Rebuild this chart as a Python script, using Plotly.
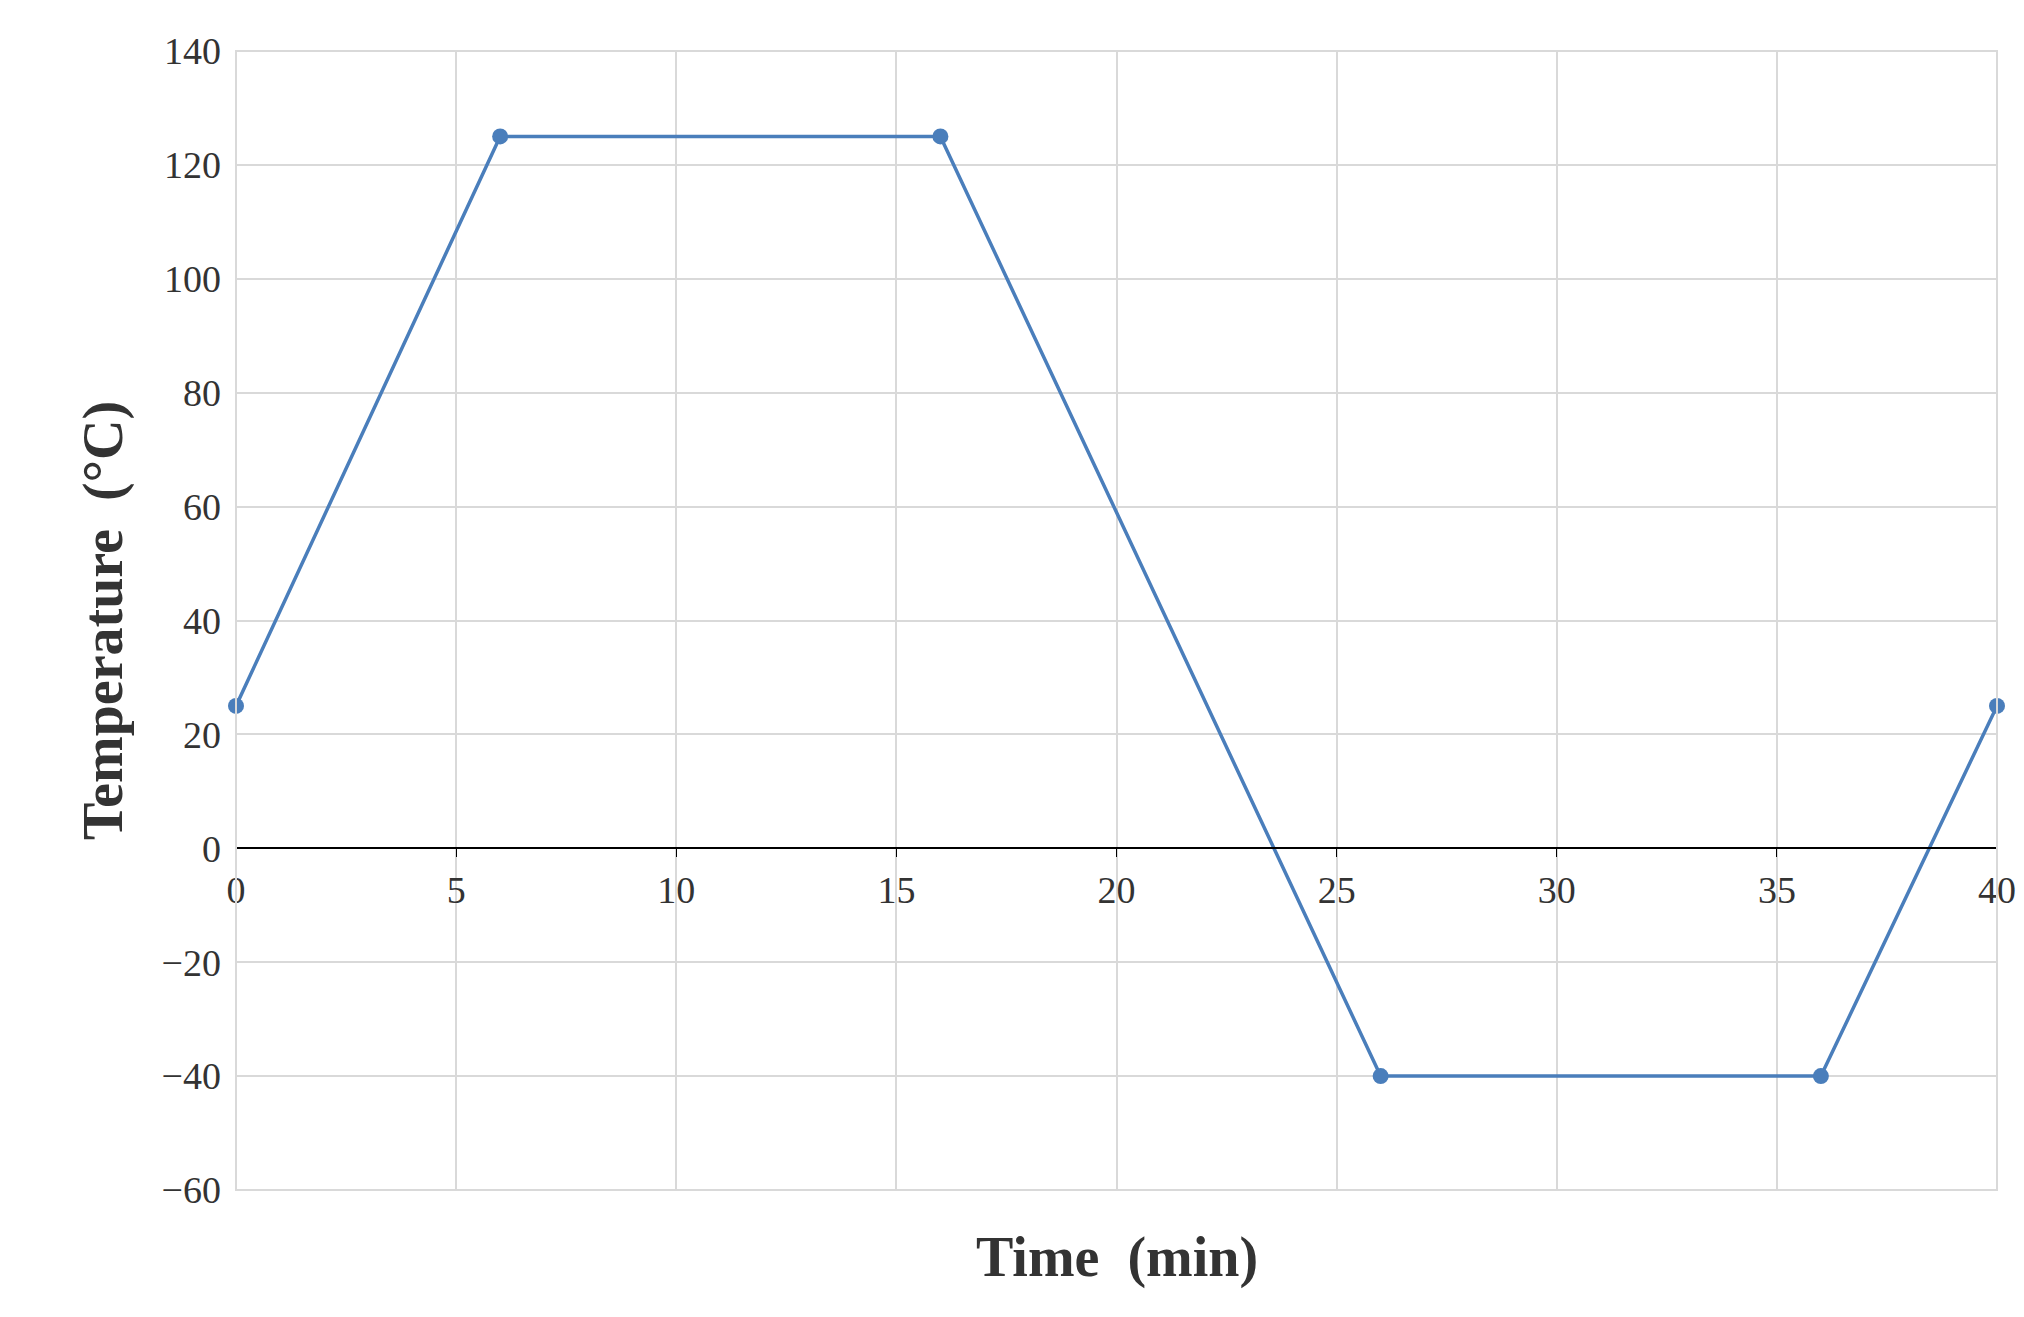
import plotly.graph_objects as go

time_min = [0, 6, 16, 26, 36, 40]
temperature = [25, 125, 125, -40, -40, 25]
x_ticks = [0, 5, 10, 15, 20, 25, 30, 35, 40]
y_ticks = [-60, -40, -20, 0, 20, 40, 60, 80, 100, 120, 140]

fig = go.Figure()
fig.add_trace(go.Scatter(
    x=time_min, y=temperature, mode='lines+markers',
    line=dict(color='#4a7ebb', width=3.5),
    marker=dict(color='#4a7ebb', size=16),
    cliponaxis=False,
))

font = dict(family='Liberation Serif', size=38, color='#333333')

fig.update_layout(
    width=2024, height=1317,
    plot_bgcolor='white', paper_bgcolor='white',
    margin=dict(l=228, r=35, t=43, b=135),
    showlegend=False,
    font=font,
    xaxis=dict(
        range=[0, 40], tickvals=x_ticks, showgrid=True, gridcolor='#d9d9d9', gridwidth=2,
        zeroline=False, anchor='free', position=0.3, showline=True, linecolor='black',
        linewidth=2, ticks='outside', tickcolor='black', ticklen=8, tickfont=font,
    ),
    yaxis=dict(
        range=[-60, 140], tickvals=y_ticks, showgrid=True, gridcolor='#d9d9d9', gridwidth=2,
        zeroline=False, showline=False, tickfont=font, ticklabelstandoff=14,
        tickformat='d', automargin=False,
        title=dict(text='<b>Temperature  (°C)</b>',
                   font=dict(family='Liberation Serif', size=56, color='#333333'),
                   standoff=20),
    ),
    shapes=[
        dict(type='rect', xref='paper', yref='paper', x0=0, x1=1, y0=0, y1=1,
             line=dict(color='#d9d9d9', width=2)),
    ],
    annotations=[
        dict(text='<b>Time  (min)</b>', xref='paper', yref='paper', x=0.5, y=-0.03,
             yanchor='top', showarrow=False,
             font=dict(family='Liberation Serif', size=56, color='#333333')),
    ],
)

fig.write_html('out.html')
